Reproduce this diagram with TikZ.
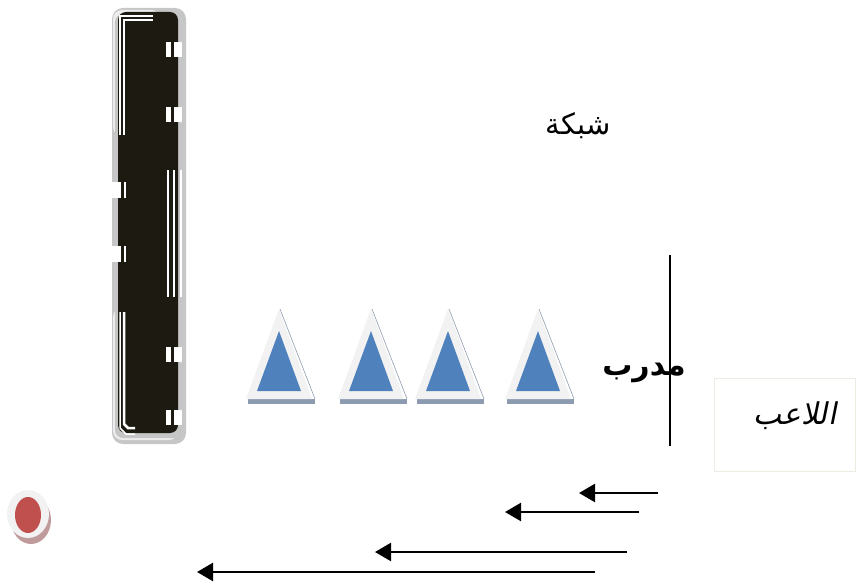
\documentclass[tikz,border=0pt]{standalone}
\usepackage{fontspec}
\usepackage{tikz}
\usetikzlibrary{arrows.meta}
\TeXXeTstate=1
\newfontfamily\arabicfont[Script=Arabic]{DejaVu Sans}
\newfontfamily\arabicslant[Script=Arabic,FakeSlant=0.2]{DejaVu Sans}

\definecolor{netdark}{HTML}{1D1A11}
\definecolor{netgray}{HTML}{C6C6C6}
\definecolor{netlight}{HTML}{EDEDED}
\definecolor{conewhite}{HTML}{F2F2F2}
\definecolor{coneblue}{HTML}{4F81BD}
\definecolor{coneshadow}{HTML}{8D9BB0}
\definecolor{ballred}{HTML}{C0504D}
\definecolor{ballshadow}{HTML}{C09B9B}
\definecolor{boxedge}{HTML}{EEEBE2}

\tikzset{
  label/.style={inner sep=0pt, font=\arabicfont},
  kick/.style={line width=2.3pt, -{Triangle[length=16pt,width=18pt]}},
}

\begin{document}
\begin{tikzpicture}[x=1pt, y=-1pt]
\useasboundingbox (0,0) rectangle (856,585);
%
% net
\fill[netgray, rounded corners=11] (112,8) rectangle (186,444);
\fill[netlight, rounded corners=9] (113,10) rectangle (160,136);
\fill[netlight, rounded corners=9] (113,308) rectangle (178,440);
\fill[netgray, rounded corners=8] (115,14) rectangle (184,438);
\fill[netdark, rounded corners=8] (118,12) rectangle (178,433);
\draw[white, line width=2.5] (124,135) -- (124,20) -- (153,20);
\draw[white, line width=1.5] (120,135) -- (120,16) -- (153,16);
\draw[white, line width=2.5] (124,312) -- (124,424) -- (128,428) -- (135,428);
\draw[white, line width=1.5] (120,312) -- (120,428) -- (126,434) -- (135,434);
\foreach \x in {168,174,181} {
\draw[white, line width=1.6] (\x,170) -- (\x,297);
}
% ticks
\foreach \y in {42,107,347,410} {
\fill[white] (166,\y) rectangle (171,\y+15);
\fill[white] (174,\y) rectangle (182,\y+15);
}
\foreach \y in {182,246} {
\fill[white] (111,\y) rectangle (121,\y+16);
\fill[white] (124,\y) rectangle (126,\y+16);
}

% cones
\foreach \x in {279,371,448,538} {
\fill[coneshadow] (\x-31,399) rectangle (\x+36,404);
\draw[coneshadow, line width=0.6] (\x+1,309) -- (\x+36,399);
\fill[conewhite] (\x,309) -- (\x+33,399) -- (\x-33,399) -- cycle;
\fill[coneblue] (\x,331) -- (\x+22,391) -- (\x-22,391) -- cycle;
}

% ball
\fill[ballshadow] (31,520) ellipse (20 and 24);
\fill[conewhite] (28,514) ellipse (21 and 24);
\fill[ballred] (28,515) ellipse (13 and 18);

% labels
\node[label, font=\arabicfont\fontsize{29}{34}\selectfont] (net) at (578,126) {\beginR شبكة\endR};
\node[label, font=\arabicfont\bfseries\fontsize{30}{36}\selectfont] (coach) at (644,373) {\beginR مدرب\endR};
\coordinate (lineTop) at (670,255);
\coordinate (lineBot) at (670,446);
\draw[line width=1.3] (lineTop) -- (lineBot);
\node[draw=boxedge, line width=0.8, minimum width=141, minimum height=93, inner sep=0pt] (box) at (785,424.5) {};
\node[label, font=\arabicslant\fontsize{30}{36}\selectfont] (player) at (795,416) {\beginR اللاعب\endR};

% arrows
\foreach \s/\e/\y [count=\i] in {658/579/493, 639/505/512, 627/375/552, 595/197/572} {
\coordinate (run\i) at (\s,\y);
\coordinate (stop\i) at (\e,\y);
\draw[kick] (run\i) -- (stop\i);
}
\end{tikzpicture}
\end{document}
